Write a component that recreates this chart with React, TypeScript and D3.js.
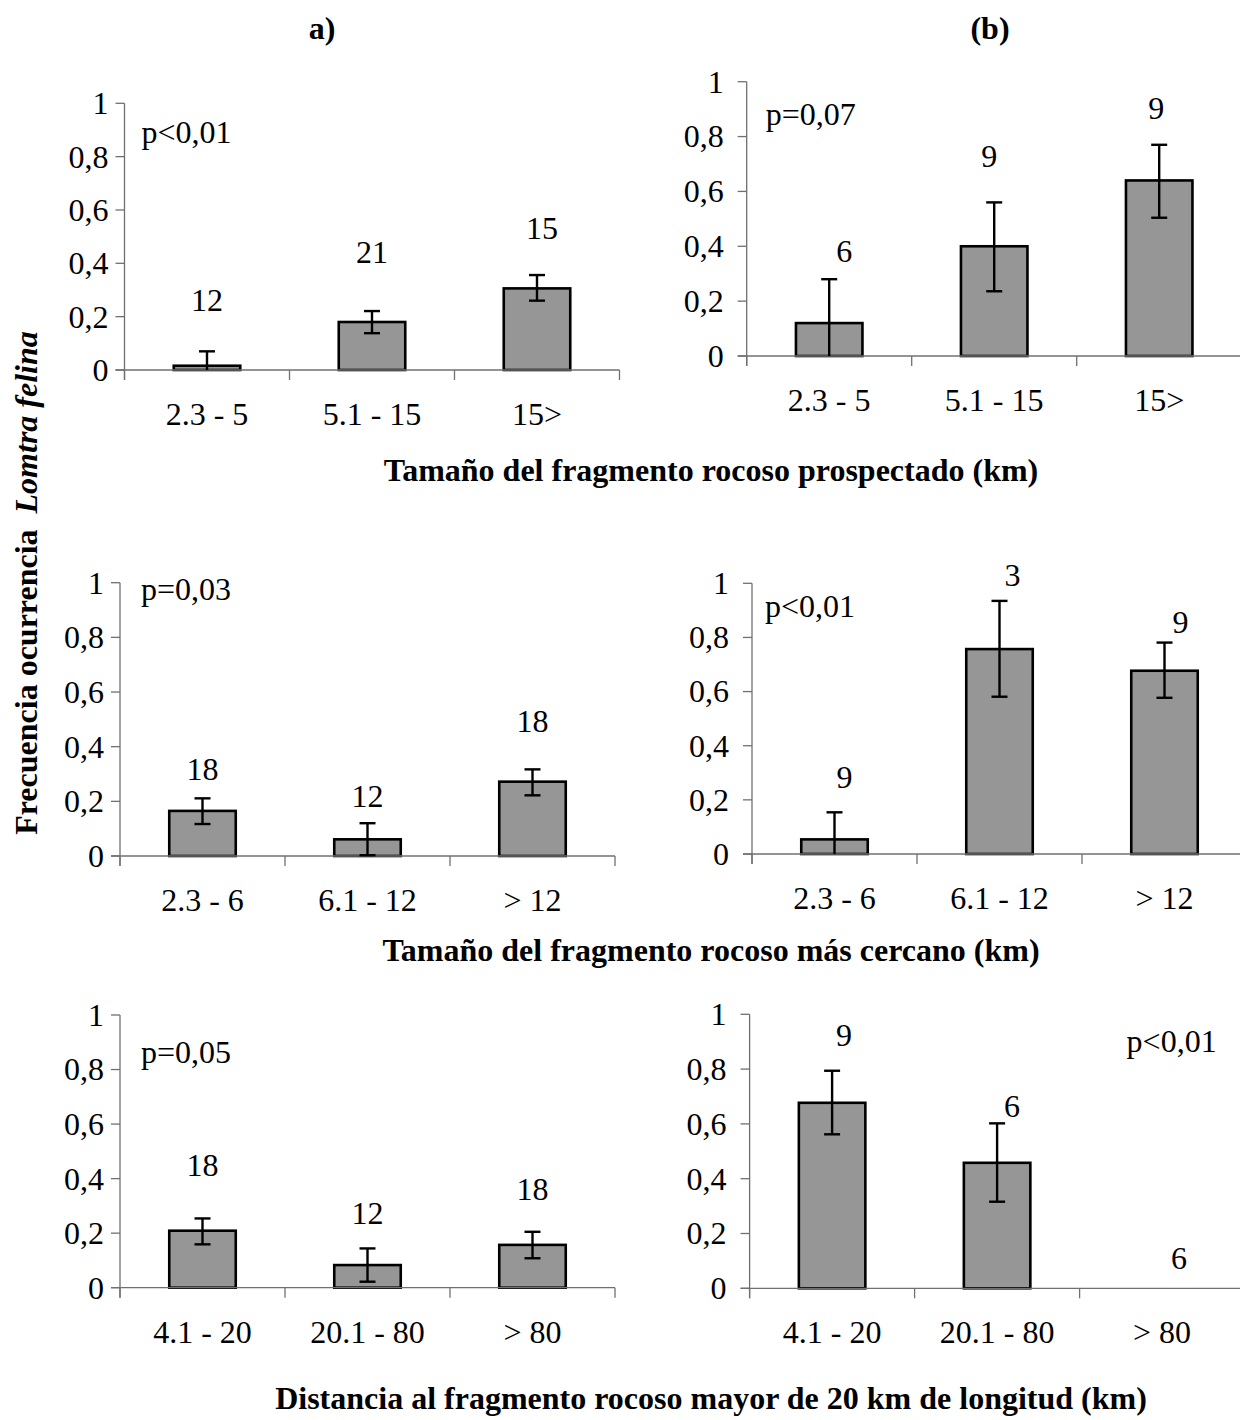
import React from "react";
import * as d3 from "d3";

// ---------- data ----------
const catsProspect = ["2.3 - 5", "5.1 - 15", "15>"];
const catsNearest = ["2.3 - 6", "6.1 - 12", "> 12"];
const catsDistance = ["4.1 - 20", "20.1 - 80", "> 80"];
const yTicks = [0, 0.2, 0.4, 0.6, 0.8, 1];

const valA = [0.016, 0.18, 0.306];
const upA = [0.07, 0.221, 0.356];
const loA = [-0.04, 0.138, 0.26];
const nA = [12, 21, 15];
const nYA = [0.222, 0.4, 0.49];

const valB = [0.12, 0.4, 0.64];
const upB = [0.28, 0.56, 0.77];
const loB = [-0.04, 0.236, 0.504];
const nB = [6, 9, 9];
const nYB = [0.343, 0.688, 0.864];

const valC = [0.165, 0.061, 0.272];
const upC = [0.211, 0.12, 0.317];
const loC = [0.117, 0.003, 0.222];
const nC = [18, 12, 18];
const nYC = [0.278, 0.18, 0.455];

const valD = [0.054, 0.757, 0.677];
const upD = [0.154, 0.935, 0.781];
const loD = [-0.046, 0.581, 0.577];
const nD = [9, 3, 9];
const nYD = [0.243, 0.99, 0.815];

const valE = [0.209, 0.083, 0.157];
const upE = [0.254, 0.144, 0.205];
const loE = [0.159, 0.022, 0.108];
const nE = [18, 12, 18];
const nYE = [0.41, 0.234, 0.32];

const valF = [0.677, 0.458, 0];
const upF = [0.794, 0.602, NaN];
const loF = [0.562, 0.316, NaN];
const nF = [9, 6, 6];
const nYF = [0.885, 0.624, 0.069];

const pTexts = ["p<0,01", "p=0,07", "p=0,03", "p<0,01", "p=0,05", "p<0,01"];
const pYs = [0.85, 0.842, 0.937, 0.877, 0.825, 0.863];

const headers = ["a)", "(b)"];
const xTitles = [
  "Tamaño del fragmento rocoso prospectado (km)",
  "Tamaño del fragmento rocoso más cercano (km)",
  "Distancia al fragmento rocoso mayor de 20 km de longitud (km)",
];

// ---------- layout ----------
const FONT = '"Liberation Serif", "Times New Roman", Times, serif';
const FS = 32;
const PW = 495;

const panels = [
  { cats: catsProspect, val: valA, up: upA, lo: loA, n: nA, nY: nYA, left: 124.5, top: 103.3, bottom: 370, gap: 16, pX: 17, nDx: [0, 0, 5] },
  { cats: catsProspect, val: valB, up: upB, lo: loB, n: nB, nY: nYB, left: 746.7, top: 81.7, bottom: 356, gap: 23, pX: 19, nDx: [15, -5, -3] },
  { cats: catsNearest, val: valC, up: upC, lo: loC, n: nC, nY: nYC, left: 120, top: 582.7, bottom: 856, gap: 16, pX: 21, nDx: [0, 0, 0] },
  { cats: catsNearest, val: valD, up: upD, lo: loD, n: nD, nY: nYD, left: 752, top: 583.3, bottom: 854, gap: 23, pX: 13, nDx: [10, 13, 16] },
  { cats: catsDistance, val: valE, up: upE, lo: loE, n: nE, nY: nYE, left: 120, top: 1015, bottom: 1287.7, gap: 16, pX: 21, nDx: [0, 0, 0] },
  { cats: catsDistance, val: valF, up: upF, lo: loF, n: nF, nY: nYF, left: 749.6, top: 1014.3, bottom: 1288.3, gap: 23, pX: 377, nDx: [12, 15, 17] },
];

function Panel({ cfg, p, pY }: any) {
  const x = d3.scaleBand<string>().domain(cfg.cats).range([cfg.left, cfg.left + PW]).padding(0);
  const y = d3.scaleLinear().domain([0, 1]).range([cfg.bottom, cfg.top]);
  const bw = x.bandwidth() * 0.403;
  const axisCol = "#707070";
  const boundaries = [...cfg.cats.map((c: string) => x(c) as number), cfg.left + PW];
  return (
    <g>
      {cfg.cats.map((c: string, i: number) => {
        const v = cfg.val[i];
        if (!(v > 0)) return null;
        const cx = (x(c) as number) + x.bandwidth() / 2;
        return (
          <rect key={"b" + i} x={cx - bw / 2} y={y(v)} width={bw} height={y(0) - y(v)}
            fill="#969696" stroke="#000" strokeWidth={2.6} />
        );
      })}
      <line x1={cfg.left} x2={cfg.left} y1={y(1)} y2={y(0) + 10} stroke={axisCol} strokeWidth={1.3} />
      <line x1={cfg.left - 9} x2={cfg.left + PW} y1={y(0)} y2={y(0)} stroke={axisCol} strokeWidth={1.3} />
      {yTicks.map((t) => (
        <g key={"yt" + t}>
          <line x1={cfg.left - 9} x2={cfg.left} y1={y(t)} y2={y(t)} stroke={axisCol} strokeWidth={1.3} />
          <text x={cfg.left - cfg.gap} y={y(t)} dy="0.34em" textAnchor="end" fontSize={FS} fontFamily={FONT}>
            {String(t).replace(".", ",")}
          </text>
        </g>
      ))}
      {boundaries.map((bx, i) => (
        <line key={"xt" + i} x1={bx} x2={bx} y1={y(0)} y2={y(0) + 10} stroke={axisCol} strokeWidth={1.3} />
      ))}
      {cfg.cats.map((c: string) => (
        <text key={"xl" + c} x={(x(c) as number) + x.bandwidth() / 2} y={y(0) + 55} textAnchor="middle"
          fontSize={FS} fontFamily={FONT}>{c}</text>
      ))}
      {cfg.cats.map((c: string, i: number) => {
        const u = cfg.up[i];
        const l = cfg.lo[i];
        if (isNaN(u)) return null;
        const cx = (x(c) as number) + x.bandwidth() / 2;
        const lowY = y(Math.max(l, 0));
        return (
          <g key={"e" + i} stroke="#000" strokeWidth={2.4}>
            <line x1={cx} x2={cx} y1={y(u)} y2={lowY} />
            <line x1={cx - 8} x2={cx + 8} y1={y(u)} y2={y(u)} />
            {l >= 0 && <line x1={cx - 8} x2={cx + 8} y1={lowY} y2={lowY} />}
          </g>
        );
      })}
      {cfg.cats.map((c: string, i: number) => (
        <text key={"n" + i} x={(x(c) as number) + x.bandwidth() / 2 + cfg.nDx[i]} y={y(cfg.nY[i])}
          textAnchor="middle" fontSize={FS} fontFamily={FONT}>{cfg.n[i]}</text>
      ))}
      <text x={cfg.left + cfg.pX} y={y(pY)} fontSize={FS} fontFamily={FONT}>{p}</text>
    </g>
  );
}

export default function App() {
  return (
    <svg width={1240} height={1420} style={{ position: "absolute", left: 0, top: 0, background: "#fff" }}>
      <rect width={1240} height={1420} fill="#fff" />
      <text x={322} y={39} textAnchor="middle" fontWeight="bold" fontSize={FS} fontFamily={FONT}>{headers[0]}</text>
      <text x={990} y={39} textAnchor="middle" fontWeight="bold" fontSize={FS} fontFamily={FONT}>{headers[1]}</text>
      {panels.map((cfg, i) => (
        <Panel key={i} cfg={cfg} p={pTexts[i]} pY={pYs[i]} />
      ))}
      <text x={711} y={481} textAnchor="middle" fontWeight="bold" fontSize={FS} fontFamily={FONT}>{xTitles[0]}</text>
      <text x={711} y={961} textAnchor="middle" fontWeight="bold" fontSize={FS} fontFamily={FONT}>{xTitles[1]}</text>
      <text x={711} y={1409} textAnchor="middle" fontWeight="bold" fontSize={FS} fontFamily={FONT}>{xTitles[2]}</text>
      <text transform="translate(37,583) rotate(-90)" textAnchor="middle" fontWeight="bold" fontSize={FS} fontFamily={FONT}>
        Frecuencia ocurrencia{"\u00a0\u00a0"}<tspan fontStyle="italic">Lomtra felina</tspan>
      </text>
    </svg>
  );
}
